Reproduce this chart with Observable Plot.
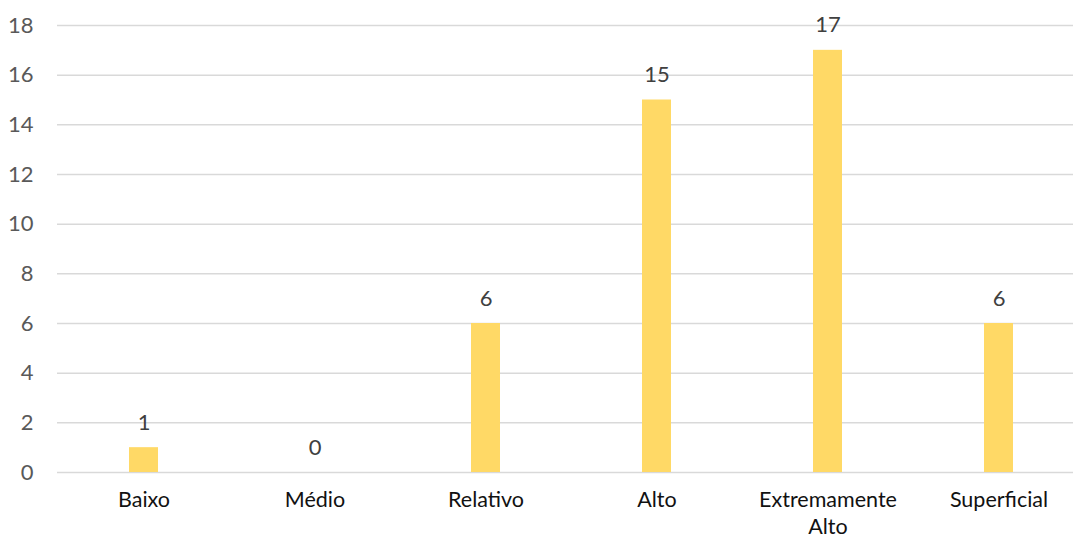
<!DOCTYPE html>
<html>
<head>
<meta charset="utf-8">
<script src="https://cdn.jsdelivr.net/npm/d3@7"></script>
<script src="https://cdn.jsdelivr.net/npm/@observablehq/plot@0.6"></script>
<style>
  html, body { margin: 0; padding: 0; background: #fff; }
  #chart svg { display: block; }
</style>
</head>
<body>
<div id="chart"></div>
<script>
const categories = ["Baixo", "Médio", "Relativo", "Alto", "Extremamente Alto", "Superficial"];
const values = [1, 0, 6, 15, 17, 6];
const xTickLabels = ["Baixo", "Médio", "Relativo", "Alto", "Extremamente\nAlto", "Superficial"];
const yTicks = [0, 2, 4, 6, 8, 10, 12, 14, 16, 18];

const data = categories.map((c, i) => ({category: c, value: values[i]}));
const labelOf = new Map(categories.map((c, i) => [c, xTickLabels[i]]));

const font = "Lato, 'Open Sans', sans-serif";

const chart = Plot.plot({
  width: 1073,
  height: 541,
  marginLeft: 57,
  marginRight: 0,
  marginTop: 25,
  marginBottom: 69,
  style: {fontFamily: font, fontSize: "22px", color: "#595959", background: "#fff"},
  x: {domain: categories, range: [57, 1086], paddingInner: 0.83, paddingOuter: 0.415, label: null},
  y: {domain: [0, 18], label: null},
  marks: [
    Plot.gridY(yTicks, {stroke: "#D9D9D9", strokeOpacity: 1, strokeWidth: 1.5}),
    Plot.barY(data, {x: "category", y: "value", fill: "#FFD966"}),
    Plot.text(data, {x: "category", y: "value", text: d => String(d.value), dy: -25, fill: "#404040", fontSize: 22}),
    Plot.axisY(yTicks, {tickSize: 0, tickPadding: 24, fill: "#595959", fontSize: 22, label: null}),
    Plot.axisX({tickSize: 0, tickPadding: 16, tickFormat: d => labelOf.get(d), fill: "#111", fontSize: 21.5, lineHeight: 1.24, label: null})
  ]
});
document.getElementById("chart").appendChild(chart);
</script>
</body>
</html>
